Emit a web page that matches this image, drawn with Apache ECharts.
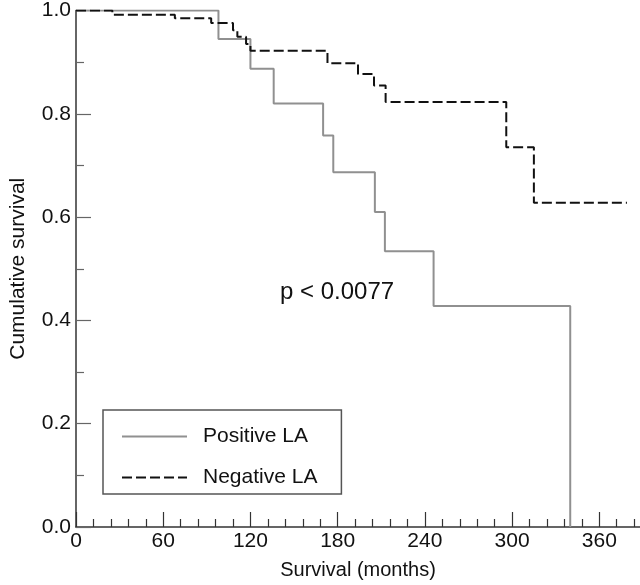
<!DOCTYPE html>
<html>
<head>
<meta charset="utf-8">
<script src="https://cdn.jsdelivr.net/npm/echarts@6/dist/echarts.min.js"></script>
<style>
html,body{margin:0;padding:0;background:#fff;}
#chart{width:640px;height:585px;}
</style>
</head>
<body>
<div id="chart"></div>
<script>
// Data (months, cumulative survival)
const posTimes = [0, 98, 120, 136, 170, 177, 205.6, 212.5, 246, 340];
const posSurv  = [1.0, 0.945, 0.887, 0.82, 0.758, 0.687, 0.61, 0.534, 0.428, 0.0];
const negTimes = [0, 25, 68, 93, 108, 111, 117, 120, 173, 194, 205, 213, 296, 315, 379];
const negSurv  = [1.0, 0.992, 0.985, 0.976, 0.962, 0.949, 0.935, 0.922, 0.898, 0.877, 0.855, 0.823, 0.735, 0.628, 0.628];
const xMajorTicks = [0, 60, 120, 180, 240, 300, 360];
const xMinorTicks = [12, 24, 36, 48, 72, 84, 96, 108, 132, 144, 156, 168, 192, 204, 216, 228, 252, 264, 276, 288, 312, 324, 336, 348, 372, 384];
const seriesNames = ['Positive LA', 'Negative LA'];
const pText = 'p < 0.0077';

const FONT = 'Liberation Sans';
const chart = echarts.init(document.getElementById('chart'), null, {renderer: 'canvas'});

const zip = (a, b) => a.map((t, i) => [t, b[i]]);

chart.setOption({
  animation: false,
  backgroundColor: '#fff',
  textStyle: {fontFamily: FONT},
  grid: {left: 68, right: 0, top: 7, bottom: 54, containLabel: false},
  xAxis: [{
    type: 'value', min: 0, max: 388,
    name: 'Survival (months)', nameLocation: 'middle', nameGap: 33,
    nameTextStyle: {fontSize: 20, color: '#111', fontFamily: FONT},
    axisLine: {lineStyle: {color: '#333', width: 1.5}},
    axisTick: {show: true, inside: true, length: 15, customValues: xMajorTicks, lineStyle: {color: '#333', width: 1.2}},
    axisLabel: {customValues: xMajorTicks, fontSize: 21, color: '#111', margin: 4, fontFamily: FONT},
    splitLine: {show: false}
  }, {
    type: 'value', min: 0, max: 388, position: 'bottom',
    axisLine: {show: false},
    axisTick: {show: true, inside: true, length: 8, customValues: xMinorTicks, lineStyle: {color: '#333', width: 1.2}},
    axisLabel: {show: false},
    splitLine: {show: false}
  }],
  yAxis: {
    type: 'value', min: 0, max: 1, interval: 0.2,
    name: 'Cumulative survival', nameLocation: 'middle', nameGap: 47,
    nameTextStyle: {fontSize: 21, color: '#111', fontFamily: FONT},
    axisLine: {show: true, lineStyle: {color: '#333', width: 1.5}},
    axisTick: {show: true, inside: true, length: 15, lineStyle: {color: '#666', width: 1.2}},
    minorTick: {show: true, splitNumber: 2, length: 8, lineStyle: {color: '#666', width: 1.2}},
    axisLabel: {fontSize: 21, color: '#111', margin: 5, fontFamily: FONT, formatter: v => v.toFixed(1)},
    splitLine: {show: false}
  },
  legend: {
    data: seriesNames,
    orient: 'vertical', left: 103, top: 410,
    itemWidth: 65, itemHeight: 20, itemGap: 20,
    padding: [16, 24, 6, 18],
    borderColor: '#555', borderWidth: 1.5,
    selectedMode: false,
    itemStyle: {color: 'rgba(0,0,0,0)', borderWidth: 0, opacity: 0},
    textStyle: {fontSize: 21, color: '#111', fontFamily: FONT, padding: [0, 0, 0, 11]}
  },
  graphic: [{
    type: 'text', left: 280, top: 280,
    style: {text: pText, fontSize: 24, fontFamily: FONT, fill: '#111'}
  }],
  series: [{
    name: seriesNames[0], type: 'line', step: 'end', symbol: 'none',
    data: zip(posTimes, posSurv),
    lineStyle: {color: '#909090', width: 2},
    itemStyle: {color: '#909090'}
  }, {
    name: seriesNames[1], type: 'line', step: 'end', symbol: 'none',
    data: zip(negTimes, negSurv),
    lineStyle: {color: '#111', width: 2, type: [10, 4]},
    itemStyle: {color: '#111'}
  }]
});
</script>
</body>
</html>
